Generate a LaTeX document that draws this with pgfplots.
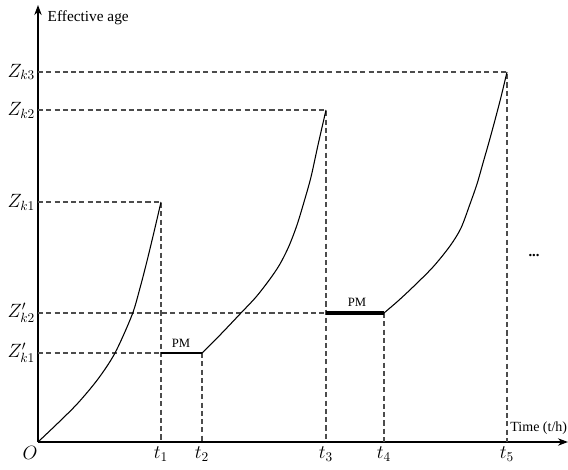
\documentclass[border=0pt]{standalone}
\usepackage{fontspec}
\setmainfont{Liberation Serif}
\usepackage{pgfplots}
\pgfplotsset{compat=1.18}
\usetikzlibrary{arrows.meta}

\begin{document}
\begin{tikzpicture}
\begin{axis}[
  x=0.75pt, y=0.75pt,
  xmin=0, xmax=530, ymin=0, ymax=437,
  axis lines=left,
  axis line style={line width=1.5pt, -{Stealth[length=7.5pt,width=5.5pt]}},
  xtick={123,164,288,346,469},
  xticklabels={$t_1$,$t_2$,$t_3$,$t_4$,$t_5$},
  ytick={89,129,240,332,370},
  yticklabels={$Z'_{k1}$,$Z'_{k2}$,$Z_{k1}$,$Z_{k2}$,$Z_{k3}$},
  major tick length=0pt,
  tick label style={font=\fontsize{14}{16}\selectfont},
  yticklabel style={inner xsep=2pt},
  clip=false,
  every axis plot/.append style={mark=none},
]
% guide lines: horizontal to each age level, vertical from each time instant
\pgfplotsset{guide/.style={black!70, line width=0.8pt, dash pattern=on 3.8pt off 2.4pt}}
\addplot[guide] coordinates {(0,240) (123,240) (123,0)};
\addplot[guide] coordinates {(0,332) (288,332) (288,0)};
\addplot[guide] coordinates {(0,370) (469,370) (469,0)};
\addplot[guide] coordinates {(0,89) (123,89)};
\addplot[guide] coordinates {(164,89) (164,0)};
\addplot[guide] coordinates {(0,129) (288,129)};
\addplot[guide] coordinates {(346,129) (346,0)};

% effective age growth between maintenance actions
\addplot[black, line width=0.8pt, smooth, tension=0.5] coordinates {
  (0,0) (20,19) (40,39) (60,63) (77,89) (94,127) (102,154) (109,181) (116,210) (123,240)};
\addplot[black, line width=0.8pt, smooth, tension=0.5] coordinates {
  (164,89) (183,108) (202,128) (218,145) (232,163) (242,178) (251,196) (259,217) (266,240) (273,265) (280,297) (288,332)};
\addplot[black, line width=0.8pt, smooth, tension=0.5] coordinates {
  (346,129) (360,141) (375,155) (395,175) (412,196) (423,214) (432,238) (439,258) (445,279) (451,300) (457,322) (463,345) (469,370)};

% preventive maintenance periods
\addplot[black, line width=2pt] coordinates {(123,89) (164,89)};
\addplot[black, line width=2.4pt] coordinates {(288,129) (346,129)};

\node[font=\fontsize{9.5}{11}\selectfont, anchor=south] at (axis cs:143,90) {PM};
\node[font=\fontsize{9.5}{11}\selectfont, anchor=south] at (axis cs:319,131) {PM};
\node[font=\fontsize{11.5}{13}\selectfont, anchor=west] at (axis cs:5,424) {Effective age};
\node[font=\fontsize{10.5}{12}\selectfont, anchor=east, inner xsep=0.5pt] at (axis cs:530,14) {Time (t/h)};
\node[font=\fontsize{14}{16}\selectfont, anchor=north east, inner sep=1pt] at (axis cs:1,-3) {$O$};
\node[font=\bfseries\fontsize{11}{12}\selectfont] at (axis cs:496,186) {...};

\coordinate (bl) at (axis cs:-38,-27);
\coordinate (tr) at (axis cs:530,442);
\end{axis}
\pgfresetboundingbox
\useasboundingbox (bl) rectangle (tr);
\end{tikzpicture}
\end{document}
